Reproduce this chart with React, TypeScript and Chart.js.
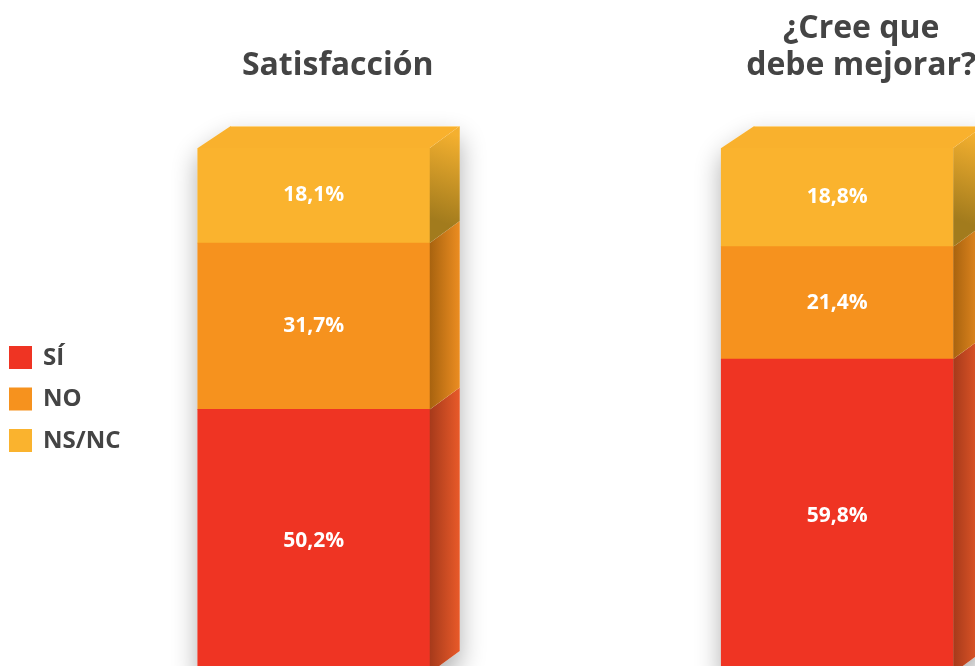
import React, { useEffect, useRef } from 'react';
import { Chart, registerables } from 'chart.js';

Chart.register(...registerables);

const categories: (string | string[])[] = ['Satisfacción', ['¿Cree que', 'debe mejorar?']];
const seriesNames = ['SÍ', 'NO', 'NS/NC'];
const siValues = [50.2, 59.8];
const noValues = [31.7, 21.4];
const nsncValues = [18.1, 18.8];

const frontColors = ['#EF3423', '#F6921E', '#FAB32E'];
const sideDark = ['#A63A1B', '#A8630F', '#A27B1D'];
const sideLight = ['#E95A29', '#EC8D21', '#F4B02F'];
const topColor = '#F9B12D';

const FONT = '"Open Sans", "Noto Sans", sans-serif';
const DX_L = 33;
const DX_R = 30;
const DY = 22;

function fmt(v: number) {
  return v.toFixed(1).replace('.', ',') + '%';
}

function barRect(chart: any, d: number, i: number) {
  const el = chart.getDatasetMeta(d).data[i];
  const p = el.getProps(['x', 'y', 'base', 'width'], true);
  return {
    left: p.x - p.width / 2,
    right: p.x + p.width / 2,
    x: p.x,
    top: Math.min(p.y, p.base),
    bottom: Math.max(p.y, p.base),
  };
}

const depthPlugin = {
  id: 'depth3d',
  beforeDatasetsDraw(chart: any) {
    const ctx = chart.ctx;
    const n = chart.data.labels.length;
    const nd = chart.data.datasets.length;
    for (let i = 0; i < n; i++) {
      let top = Infinity;
      let bottom = -Infinity;
      let left = 0;
      let right = 0;
      for (let d = 0; d < nd; d++) {
        const r = barRect(chart, d, i);
        top = Math.min(top, r.top);
        bottom = Math.max(bottom, r.bottom);
        left = r.left;
        right = r.right;
      }
      ctx.save();
      ctx.shadowColor = 'rgba(0,0,0,0.32)';
      ctx.shadowBlur = 26;
      ctx.shadowOffsetY = 12;
      ctx.fillStyle = '#ffffff';
      ctx.beginPath();
      ctx.moveTo(left, bottom);
      ctx.lineTo(left, top);
      ctx.lineTo(left + DX_L, top - DY);
      ctx.lineTo(right + DX_R, top - DY);
      ctx.lineTo(right + DX_R, bottom - DY);
      ctx.lineTo(right, bottom);
      ctx.closePath();
      ctx.fill();
      ctx.restore();
    }
  },
  afterDatasetsDraw(chart: any) {
    const ctx = chart.ctx;
    const n = chart.data.labels.length;
    const nd = chart.data.datasets.length;
    for (let i = 0; i < n; i++) {
      for (let d = 0; d < nd; d++) {
        const r = barRect(chart, d, i);
        const isTop = d === nd - 1;
        let g;
        if (isTop) {
          g = ctx.createLinearGradient(r.right, r.top + 70, r.right + DX_R, r.top - DY + 10);
        } else {
          g = ctx.createLinearGradient(r.right, 0, r.right + DX_R, 0);
        }
        g.addColorStop(0, sideDark[d]);
        g.addColorStop(1, sideLight[d]);
        ctx.save();
        ctx.fillStyle = g;
        ctx.beginPath();
        ctx.moveTo(r.right, r.top);
        ctx.lineTo(r.right + DX_R, r.top - DY);
        ctx.lineTo(r.right + DX_R, r.bottom - DY);
        ctx.lineTo(r.right, r.bottom);
        ctx.closePath();
        ctx.fill();
        ctx.restore();
        if (isTop) {
          ctx.save();
          ctx.fillStyle = topColor;
          ctx.beginPath();
          ctx.moveTo(r.left, r.top);
          ctx.lineTo(r.left + DX_L, r.top - DY);
          ctx.lineTo(r.right + DX_R, r.top - DY);
          ctx.lineTo(r.right, r.top);
          ctx.closePath();
          ctx.fill();
          ctx.strokeStyle = 'rgba(255,220,150,0.8)';
          ctx.lineWidth = 1;
          ctx.beginPath();
          ctx.moveTo(r.left + DX_L, r.top - DY + 0.5);
          ctx.lineTo(r.right + DX_R, r.top - DY + 0.5);
          ctx.stroke();
          ctx.restore();
        }
        const v = chart.data.datasets[d].data[i];
        ctx.save();
        ctx.fillStyle = '#ffffff';
        ctx.font = 'bold 21px ' + FONT;
        ctx.textAlign = 'center';
        ctx.textBaseline = 'middle';
        ctx.fillText(fmt(v), r.x, (r.top + r.bottom) / 2);
        ctx.restore();
      }
    }
  },
  afterDraw(chart: any) {
    const ctx = chart.ctx;
    const ds = chart.data.datasets;
    ctx.save();
    ctx.font = 'bold 24px ' + FONT;
    ctx.textAlign = 'left';
    ctx.textBaseline = 'middle';
    for (let k = 0; k < ds.length; k++) {
      const y = 346 + k * 41.5;
      ctx.fillStyle = ds[k].backgroundColor;
      ctx.fillRect(9, y, 23, 23);
      ctx.fillStyle = '#444444';
      ctx.fillText(ds[k].label, 43, y + 12);
    }
    ctx.restore();
  },
};

export default function App() {
  const ref = useRef<HTMLCanvasElement | null>(null);
  useEffect(() => {
    if (!ref.current) return;
    const seriesValues = [siValues, noValues, nsncValues];
    const chart = new Chart(ref.current, {
      type: 'bar',
      data: {
        labels: categories as any,
        datasets: seriesNames.map((name, k) => ({
          label: name,
          data: seriesValues[k],
          backgroundColor: frontColors[k],
          borderWidth: 0,
          barThickness: 232,
        })),
      },
      options: {
        animation: false,
        responsive: false,
        devicePixelRatio: 1,
        layout: { padding: { left: 52, right: 20, top: 0, bottom: 17 } },
        plugins: {
          legend: { display: false },
          tooltip: { enabled: false },
        },
        scales: {
          x: {
            position: 'top',
            stacked: true,
            grid: { display: false, drawTicks: false },
            border: { display: false },
            ticks: {
              color: '#444444',
              font: { family: FONT, size: 32, weight: 'bold', lineHeight: 1.15 },
              padding: 64,
              labelOffset: 24,
              maxRotation: 0,
              autoSkip: false,
            },
            afterFit(scale: any) {
              scale.height = 148;
            },
          },
          y: { stacked: true, min: 0, max: 100, display: false },
        },
      },
      plugins: [depthPlugin],
    } as any);
    return () => chart.destroy();
  }, []);
  return (
    <div style={{ position: 'fixed', left: 0, top: 0, width: 975, height: 666, overflow: 'hidden', background: '#fff' }}>
      <canvas ref={ref} width={1119} height={690} style={{ width: 1119, height: 690, display: 'block' }} />
    </div>
  );
}
